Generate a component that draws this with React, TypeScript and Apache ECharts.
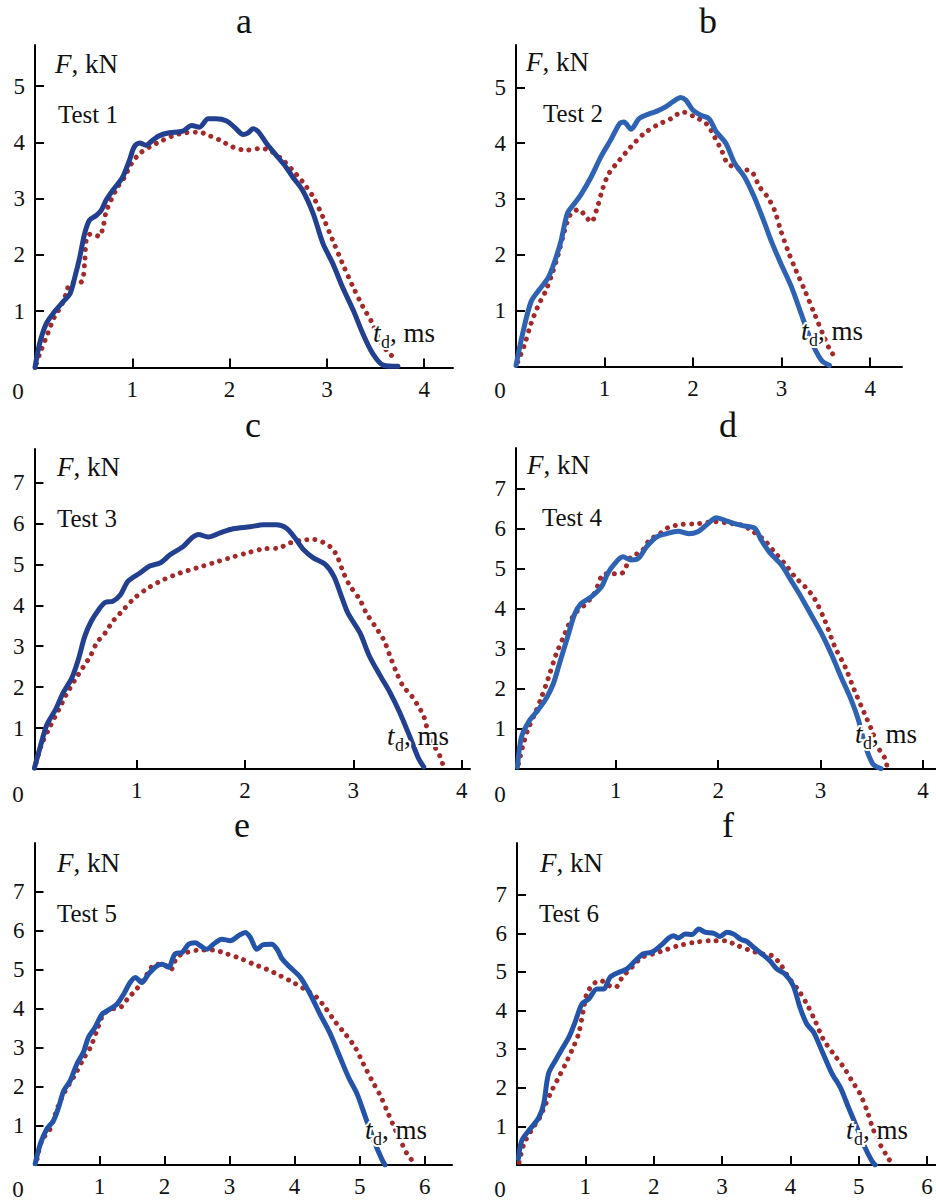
import React, { useEffect, useRef } from "react";
import * as echarts from "echarts";

// ---------- data (t_d in ms, F in kN) ----------
const xTicks4 = [1, 2, 3, 4];
const xTicks6 = [1, 2, 3, 4, 5, 6];
const yTicks5 = [1, 2, 3, 4, 5];
const yTicks7 = [1, 2, 3, 4, 5, 6, 7];
const panelLetters = ["a", "b", "c", "d", "e", "f"];
const testNames = ["Test 1", "Test 2", "Test 3", "Test 4", "Test 5", "Test 6"];

const blue1 = [[0,0],[0.048,0.43],[0.116,0.78],[0.2,0.99],[0.29,1.17],[0.36,1.31],[0.41,1.61],[0.46,1.96],[0.51,2.38],[0.56,2.62],[0.63,2.7],[0.68,2.79],[0.73,2.97],[0.8,3.15],[0.9,3.38],[0.97,3.68],[1.02,3.92],[1.075,3.99],[1.14,3.95],[1.21,4.04],[1.28,4.12],[1.38,4.17],[1.52,4.2],[1.61,4.3],[1.69,4.27],[1.78,4.42],[1.86,4.42],[1.97,4.38],[2.05,4.27],[2.14,4.14],[2.19,4.17],[2.24,4.24],[2.29,4.2],[2.38,3.98],[2.48,3.77],[2.58,3.56],[2.65,3.38],[2.75,3.15],[2.86,2.73],[2.96,2.2],[3.06,1.85],[3.16,1.43],[3.27,1.02],[3.37,0.6],[3.47,0.25],[3.58,0.04],[3.73,0.02]];
const red1 = [[0.014,0.07],[0.05,0.25],[0.13,0.6],[0.2,0.9],[0.27,1.1],[0.32,1.31],[0.36,1.49],[0.476,1.52],[0.51,1.85],[0.53,2.29],[0.58,2.38],[0.66,2.33],[0.7,2.5],[0.73,2.76],[0.78,2.97],[0.85,3.21],[0.92,3.38],[0.99,3.62],[1.075,3.8],[1.18,3.92],[1.28,4.01],[1.42,4.12],[1.55,4.17],[1.69,4.18],[1.79,4.12],[1.9,4.04],[2.03,3.92],[2.17,3.86],[2.31,3.89],[2.41,3.86],[2.55,3.68],[2.65,3.5],[2.75,3.3],[2.86,3.03],[2.96,2.67],[3.06,2.26],[3.16,1.85],[3.27,1.43],[3.37,1.08],[3.46,0.81],[3.54,0.49],[3.64,0.25],[3.71,0.16]];

const blue2 = [[0,0.02],[0.075,0.59],[0.17,1.16],[0.26,1.37],[0.36,1.58],[0.43,1.85],[0.51,2.26],[0.58,2.74],[0.66,2.92],[0.73,3.07],[0.85,3.4],[0.96,3.76],[1.07,4.06],[1.17,4.35],[1.22,4.38],[1.3,4.25],[1.39,4.44],[1.51,4.53],[1.6,4.58],[1.69,4.65],[1.77,4.74],[1.86,4.82],[1.92,4.77],[2.0,4.59],[2.09,4.5],[2.18,4.44],[2.26,4.21],[2.37,4.0],[2.47,3.64],[2.58,3.4],[2.69,3.04],[2.81,2.56],[2.88,2.26],[2.99,1.85],[3.11,1.43],[3.22,0.95],[3.33,0.47],[3.45,0.11],[3.54,0.02]];
const red2 = [[0.02,0.08],[0.094,0.38],[0.17,0.77],[0.245,1.07],[0.34,1.37],[0.41,1.67],[0.47,1.97],[0.55,2.44],[0.62,2.74],[0.71,2.81],[0.79,2.68],[0.85,2.59],[0.92,2.86],[0.98,3.19],[1.05,3.46],[1.17,3.7],[1.3,3.94],[1.45,4.18],[1.6,4.33],[1.75,4.44],[1.88,4.56],[2.02,4.47],[2.15,4.35],[2.24,4.12],[2.32,3.88],[2.39,3.64],[2.5,3.55],[2.66,3.49],[2.75,3.22],[2.84,3.04],[2.92,2.8],[2.99,2.44],[3.07,2.08],[3.16,1.73],[3.26,1.37],[3.37,0.95],[3.48,0.53],[3.56,0.26],[3.63,0.14]];

const blue3 = [[0.055,0.02],[0.11,0.55],[0.17,1.08],[0.25,1.45],[0.32,1.86],[0.4,2.22],[0.46,2.67],[0.52,3.24],[0.58,3.61],[0.65,3.9],[0.71,4.07],[0.78,4.1],[0.85,4.26],[0.92,4.59],[1.03,4.79],[1.12,4.96],[1.22,5.04],[1.31,5.24],[1.43,5.44],[1.51,5.65],[1.57,5.73],[1.66,5.67],[1.77,5.77],[1.89,5.87],[2.05,5.92],[2.17,5.97],[2.29,5.97],[2.38,5.89],[2.46,5.65],[2.54,5.36],[2.63,5.16],[2.74,5.0],[2.82,4.71],[2.89,4.22],[2.95,3.81],[3.06,3.33],[3.15,2.75],[3.25,2.27],[3.34,1.86],[3.43,1.37],[3.52,0.8],[3.6,0.27],[3.65,0.05]];
const red3 = [[0.07,0.15],[0.12,0.59],[0.2,1.04],[0.28,1.45],[0.35,1.82],[0.43,2.18],[0.51,2.51],[0.57,2.75],[0.63,3.08],[0.71,3.33],[0.78,3.61],[0.88,3.9],[0.98,4.18],[1.11,4.43],[1.25,4.63],[1.4,4.79],[1.55,4.91],[1.71,5.04],[1.86,5.16],[2.02,5.28],[2.17,5.38],[2.31,5.4],[2.42,5.53],[2.52,5.59],[2.63,5.61],[2.72,5.54],[2.8,5.4],[2.85,5.2],[2.91,4.79],[2.97,4.47],[3.06,4.14],[3.12,3.81],[3.2,3.49],[3.28,3.16],[3.34,2.75],[3.4,2.35],[3.46,2.02],[3.54,1.78],[3.6,1.53],[3.65,1.29],[3.69,0.92],[3.75,0.55],[3.8,0.31],[3.83,0.08]];

const blue4 = [[0.04,0.05],[0.08,0.8],[0.16,1.22],[0.24,1.47],[0.32,1.76],[0.39,2.13],[0.45,2.63],[0.53,3.3],[0.6,3.88],[0.66,4.13],[0.76,4.3],[0.86,4.55],[0.92,4.88],[0.99,5.13],[1.07,5.3],[1.15,5.22],[1.22,5.26],[1.3,5.55],[1.4,5.8],[1.48,5.87],[1.61,5.94],[1.71,5.88],[1.8,5.93],[1.9,6.13],[1.98,6.28],[2.06,6.22],[2.16,6.13],[2.26,6.07],[2.36,6.01],[2.42,5.72],[2.5,5.42],[2.62,5.09],[2.71,4.72],[2.81,4.3],[2.91,3.84],[3.01,3.38],[3.11,2.84],[3.2,2.3],[3.3,1.72],[3.37,1.22],[3.43,0.63],[3.51,0.13],[3.59,0.01]];
const red4 = [[0.05,0.13],[0.09,0.55],[0.14,0.97],[0.21,1.38],[0.27,1.76],[0.34,2.26],[0.42,2.88],[0.49,3.3],[0.53,3.55],[0.6,3.88],[0.71,4.13],[0.79,4.38],[0.89,4.88],[0.97,4.88],[1.05,4.88],[1.15,5.3],[1.25,5.43],[1.33,5.72],[1.43,5.88],[1.51,6.03],[1.64,6.11],[1.8,6.13],[1.97,6.18],[2.13,6.13],[2.24,6.09],[2.32,5.97],[2.45,5.72],[2.55,5.42],[2.65,5.13],[2.75,4.8],[2.85,4.55],[2.94,4.26],[3.04,3.72],[3.14,3.05],[3.24,2.55],[3.33,1.97],[3.43,1.38],[3.5,0.97],[3.56,0.55],[3.63,0.26],[3.65,0.05]];

const blue5 = [[0.01,0.03],[0.09,0.54],[0.19,0.92],[0.29,1.13],[0.37,1.47],[0.45,1.9],[0.55,2.16],[0.65,2.58],[0.75,2.88],[0.83,3.27],[0.93,3.52],[1.04,3.86],[1.16,3.99],[1.27,4.12],[1.37,4.37],[1.47,4.67],[1.55,4.8],[1.65,4.67],[1.75,4.88],[1.86,5.07],[1.96,5.14],[2.06,5.06],[2.16,5.4],[2.27,5.44],[2.37,5.65],[2.47,5.69],[2.55,5.61],[2.65,5.52],[2.75,5.65],[2.88,5.78],[3.01,5.74],[3.14,5.87],[3.24,5.95],[3.32,5.82],[3.42,5.52],[3.52,5.64],[3.65,5.65],[3.73,5.52],[3.81,5.27],[3.93,5.06],[4.09,4.8],[4.24,4.37],[4.39,3.86],[4.55,3.35],[4.7,2.75],[4.83,2.24],[4.96,1.82],[5.09,1.22],[5.22,0.62],[5.34,0.15],[5.39,0.0]];
const red5 = [[0.04,0.15],[0.11,0.62],[0.24,0.92],[0.32,1.3],[0.42,1.73],[0.52,2.03],[0.63,2.33],[0.75,2.71],[0.86,3.01],[0.96,3.44],[1.06,3.86],[1.19,3.99],[1.32,4.03],[1.45,4.29],[1.57,4.5],[1.73,4.88],[1.86,5.14],[1.98,5.14],[2.09,4.99],[2.19,5.31],[2.34,5.44],[2.55,5.5],[2.75,5.5],[2.96,5.4],[3.16,5.29],[3.37,5.14],[3.57,5.01],[3.78,4.84],[3.98,4.67],[4.19,4.46],[4.34,4.29],[4.47,4.03],[4.63,3.65],[4.78,3.35],[4.93,3.01],[5.06,2.58],[5.19,2.16],[5.32,1.77],[5.42,1.39],[5.52,1.01],[5.63,0.62],[5.73,0.28],[5.81,0.11]];

const blue6 = [[0.02,0.16],[0.07,0.63],[0.19,0.93],[0.32,1.23],[0.39,1.58],[0.46,2.36],[0.56,2.7],[0.66,3.01],[0.76,3.31],[0.85,3.7],[0.95,4.17],[1.05,4.3],[1.17,4.56],[1.27,4.56],[1.36,4.86],[1.49,4.99],[1.61,5.08],[1.73,5.29],[1.85,5.47],[1.97,5.51],[2.1,5.68],[2.22,5.88],[2.29,5.94],[2.36,5.88],[2.46,5.98],[2.56,5.97],[2.66,6.11],[2.75,6.03],[2.88,6.0],[2.97,5.92],[3.07,6.03],[3.17,5.98],[3.27,5.85],[3.36,5.79],[3.46,5.64],[3.58,5.47],[3.7,5.29],[3.8,5.08],[3.92,4.95],[4.04,4.65],[4.14,4.08],[4.24,3.65],[4.34,3.44],[4.46,2.96],[4.61,2.36],[4.73,2.01],[4.85,1.49],[4.97,0.98],[5.09,0.46],[5.19,0.11],[5.24,0.0]];
const red6 = [[0.03,0.07],[0.1,0.54],[0.22,0.93],[0.32,1.19],[0.41,1.54],[0.51,1.93],[0.61,2.27],[0.71,2.62],[0.8,2.96],[0.9,3.39],[0.97,4.0],[1.02,4.43],[1.12,4.69],[1.22,4.78],[1.34,4.65],[1.44,4.6],[1.54,4.86],[1.68,5.12],[1.83,5.38],[2.0,5.47],[2.17,5.57],[2.36,5.68],[2.61,5.77],[2.85,5.81],[3.05,5.81],[3.19,5.71],[3.39,5.57],[3.58,5.47],[3.73,5.42],[3.85,5.21],[3.97,4.86],[4.12,4.52],[4.24,4.17],[4.36,3.74],[4.48,3.26],[4.63,2.88],[4.78,2.53],[4.9,2.18],[5.02,1.84],[5.12,1.41],[5.21,0.93],[5.31,0.54],[5.41,0.24],[5.48,0.04]];

const blueSeries = [blue1, blue2, blue3, blue4, blue5, blue6];
const redSeries = [red1, red2, red3, red4, red5, red6];
const xTickSets = [xTicks4, xTicks4, xTicks4, xTicks4, xTicks6, xTicks6];
const yTickSets = [yTicks5, yTicks5, yTicks7, yTicks7, yTicks7, yTicks7];

// ---------- layout (pixels) ----------
const layout = [
  { left: 35, top: 45, width: 418, height: 322.5, xMin: 0, xMax: 4.296, yMax: 5.73, blue: "#22408f",
    title: [244, 21], fkn: [55, 64], test: [58, 114], td: [373, 342], zero: [18, 391] },
  { left: 516, top: 45, width: 386, height: 321.5, xMin: 0, xMax: 4.36, yMax: 5.76, blue: "#2e62b3",
    title: [708, 21], fkn: [526, 62], test: [543, 113], td: [801, 340], zero: [500, 390] },
  { left: 34.5, top: 449, width: 435.5, height: 320, xMin: 0.056, xMax: 4.077, yMax: 7.82, blue: "#22408f",
    title: [253, 425], fkn: [57, 467], test: [57, 518], td: [387, 745], zero: [18, 794] },
  { left: 516, top: 448, width: 420, height: 321, xMin: 0.026, xMax: 4.127, yMax: 8.02, blue: "#2e62b3",
    title: [728, 425], fkn: [527, 465], test: [542, 517], td: [855, 743], zero: [500, 794] },
  { left: 34.5, top: 843, width: 417.5, height: 322, xMin: 0, xMax: 6.42, yMax: 8.24, blue: "#2454aa",
    title: [242, 825], fkn: [57, 863], test: [57, 913], td: [365, 1139], zero: [18, 1189] },
  { left: 517, top: 843, width: 419, height: 322, xMin: 0, xMax: 6.13, yMax: 8.34, blue: "#2454aa",
    title: [728, 825], fkn: [540, 863], test: [539, 913], td: [846, 1139], zero: [500, 1189] },
];

const FONT = "'Liberation Serif', serif";
const RED = "#a32a2a";
const INK = "#111";

function buildOption() {
  const grid: any[] = [];
  const xAxis: any[] = [];
  const yAxis: any[] = [];
  const series: any[] = [];
  const graphic: any[] = [];

  layout.forEach((p, i) => {
    grid.push({ left: p.left, top: p.top, width: p.width, height: p.height });
    const axisCommon = {
      gridIndex: i,
      type: "value",
      axisLine: { show: true, onZero: false, lineStyle: { color: "#000", width: 2 } },
      splitLine: { show: false },
    };
    xAxis.push({
      ...axisCommon,
      min: p.xMin,
      max: p.xMax,
      axisTick: { show: true, inside: true, length: 9, customValues: xTickSets[i], lineStyle: { color: "#000", width: 2 } },
      axisLabel: { customValues: xTickSets[i], margin: 10, fontSize: 23, fontFamily: FONT, color: INK },
    });
    yAxis.push({
      ...axisCommon,
      min: 0,
      max: p.yMax,
      axisTick: { show: true, inside: true, length: 9, customValues: yTickSets[i], lineStyle: { color: "#000", width: 2 } },
      axisLabel: { customValues: yTickSets[i], margin: 10, fontSize: 23, fontFamily: FONT, color: INK },
    });
    series.push({
      type: "line",
      name: "measured " + (i + 1),
      xAxisIndex: i,
      yAxisIndex: i,
      data: redSeries[i],
      symbol: "none",
      smooth: 0.3,
      z: 2,
      lineStyle: { color: RED, width: 5, type: [0.01, 8.2], cap: "round" },
    });
    series.push({
      type: "line",
      name: "model " + (i + 1),
      xAxisIndex: i,
      yAxisIndex: i,
      data: blueSeries[i],
      symbol: "none",
      smooth: 0.3,
      z: 3,
      lineStyle: { color: p.blue, width: 5, cap: "round", join: "round" },
    });

    graphic.push({
      type: "text", x: p.title[0], y: p.title[1], z: 10,
      style: { text: panelLetters[i], fontSize: 36, fontFamily: FONT, fill: INK, textAlign: "center", textVerticalAlign: "middle" },
    });
    graphic.push({
      type: "text", x: p.fkn[0], y: p.fkn[1], z: 10,
      style: {
        text: "{i|F}, kN", fontSize: 27, fontFamily: FONT, fill: INK, textAlign: "left", textVerticalAlign: "middle",
        rich: { i: { fontStyle: "italic", fontSize: 27, fontFamily: FONT, fill: INK } },
      },
    });
    graphic.push({
      type: "text", x: p.test[0], y: p.test[1], z: 10,
      style: { text: testNames[i], fontSize: 25, fontFamily: FONT, fill: INK, textAlign: "left", textVerticalAlign: "middle" },
    });
    graphic.push({
      type: "text", x: p.zero[0], y: p.zero[1], z: 10,
      style: { text: "0", fontSize: 23, fontFamily: FONT, fill: INK, textAlign: "center", textVerticalAlign: "middle" },
    });
    const [tx, tb] = p.td;
    graphic.push({
      type: "group", z: 10,
      children: [
        { type: "text", x: tx, y: tb - 9, z: 10,
          style: { text: "t", fontSize: 27, fontStyle: "italic", fontFamily: FONT, fill: INK, textAlign: "left", textVerticalAlign: "middle", stroke: "#fff", lineWidth: 4 } },
        { type: "text", x: tx + 8, y: tb, z: 10,
          style: { text: "d", fontSize: 18, fontFamily: FONT, fill: INK, textAlign: "left", textVerticalAlign: "middle", stroke: "#fff", lineWidth: 4 } },
        { type: "text", x: tx + 17, y: tb - 9, z: 10,
          style: { text: ", ms", fontSize: 27, fontFamily: FONT, fill: INK, textAlign: "left", textVerticalAlign: "middle", stroke: "#fff", lineWidth: 4 } },
      ],
    });
  });

  return {
    animation: false,
    backgroundColor: "#fff",
    grid,
    xAxis,
    yAxis,
    series,
    graphic,
  };
}

export default function App() {
  const ref = useRef<HTMLDivElement>(null);
  useEffect(() => {
    if (!ref.current) return;
    const chart = echarts.init(ref.current, null, { renderer: "svg" });
    chart.setOption(buildOption() as any);
    return () => chart.dispose();
  }, []);
  return (
    <div
      ref={ref}
      style={{ position: "absolute", left: 0, top: 0, width: 936, height: 1201, background: "#fff" }}
    />
  );
}
